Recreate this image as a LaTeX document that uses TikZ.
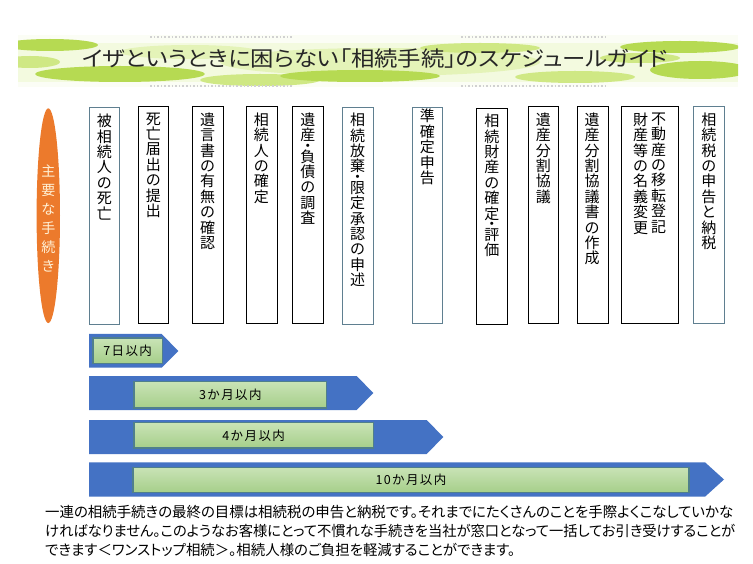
\documentclass[tikz,border=0pt]{standalone}
\usepackage{fontspec}
\usepackage{graphicx}
\usetikzlibrary{shapes.geometric}
\newfontfamily\jp{Noto Sans CJK JP}
\newfontfamily\jpp[RawFeature=+palt]{Noto Sans CJK JP}
\newcommand\lsp{\hspace{1.4pt}}
\newcommand\vdt{\\[-4.7pt]・\\[-4.7pt]}
\definecolor{cblue}{HTML}{4472C4}
\definecolor{gborder}{HTML}{4F7F8C}
\definecolor{glight}{HTML}{C9E3B6}
\definecolor{gdark}{HTML}{A6CF8A}
\definecolor{slate}{HTML}{5F7F90}
\definecolor{ora}{HTML}{EC7A2C}
\definecolor{cream}{HTML}{FFF1D6}
\definecolor{limeA}{HTML}{B6DA52}
\definecolor{limeB}{HTML}{CFE884}
\definecolor{limeC}{HTML}{E4F3B8}
\begin{document}
\begin{tikzpicture}[x=1pt,y=-1pt,
  kbox/.style={draw=black,line width=0.8pt,anchor=north west,inner sep=0pt},
  sbox/.style={draw=slate,line width=1pt,anchor=north west,inner sep=0pt},
  vt/.style={anchor=north,align=center,inner sep=0pt,font=\jp\fontsize{15}{15.4}\selectfont},
  chev/.style={fill=cblue},
  gbar/.style={draw=gborder,line width=1.3pt,top color=glight,bottom color=gdark,anchor=north west,inner sep=0pt,font=\jp\fontsize{12.5}{14}\selectfont},
  blob/.style={fill=#1,draw=none},
  deco/.style={draw=black!18,dotted,line width=1.6pt}
]
\useasboundingbox (0,0) rectangle (753,564);
\fill[white] (0,0) rectangle (753,564);

% ---- title banner ----
\begin{scope}
\clip (18,35) rectangle (738,87);
\fill[limeC!45!white] (18,35) rectangle (738,87);
\fill[white,opacity=0.7] (18,35) rectangle (738,43);
\fill[white,opacity=0.7] (18,82) rectangle (738,87);
\fill[blob=limeA] (50,45) ellipse (48 and 6);
\fill[blob=limeB] (30,62) ellipse (30 and 6);
\fill[blob=limeA] (120,74) ellipse (85 and 8);
\fill[blob=limeC] (190,52) ellipse (70 and 7);
\fill[blob=limeB] (260,80) ellipse (60 and 6);
\fill[blob=limeC] (380,62) ellipse (160 and 14);
\fill[blob=limeA] (360,76) ellipse (80 and 6);
\fill[blob=limeB] (480,48) ellipse (60 and 5);
\fill[blob=limeB] (575,77) ellipse (60 and 6);
\fill[blob=limeA] (680,47) ellipse (60 and 6);
\fill[blob=limeA] (700,70) ellipse (50 and 9);
\fill[blob=limeB] (640,58) ellipse (40 and 5);
\end{scope}
\draw[deco] (150,37) -- (293,37);
\draw[deco] (461,37) -- (606,37);
\draw[deco] (150,86) -- (293,86);
\draw[deco] (461,86) -- (606,86);
\node[anchor=west,inner sep=0pt,text=black!85] (title) at (82,59)
  {\resizebox{586pt}{\height}{\jpp\fontsize{21}{21}\selectfont イザというときに困らない「相続手続」のスケジュールガイド}};

% ---- orange oval ----
\node[ellipse,fill=ora,minimum width=23.4pt,minimum height=214.7pt,inner sep=0pt] (oval) at (48.3,215.7) {};
\node[anchor=center,align=center,inner sep=0pt,text=cream,font=\jp\fontsize{14}{19}\selectfont] (ovtxt) at (48.3,218)
  {主\\要\\な\\手\\続\\き};

% ---- boxes ----
\node[sbox,minimum width=30pt,minimum height=217pt] (b1) at (89.3,107) {};
\node[kbox,minimum width=30pt,minimum height=217pt] (b2) at (138.3,106) {};
\node[kbox,minimum width=30.4pt,minimum height=217pt] (b3) at (192.3,106) {};
\node[kbox,minimum width=30.7pt,minimum height=217pt] (b4) at (246,106) {};
\node[kbox,minimum width=31pt,minimum height=217pt] (b5) at (292.3,106) {};
\node[sbox,minimum width=30.4pt,minimum height=217pt] (b6) at (342.3,107) {};
\node[sbox,minimum width=30pt,minimum height=216pt] (b7) at (412.3,107) {};
\node[kbox,minimum width=31pt,minimum height=215.8pt] (b8) at (476.3,108.5) {};
\node[kbox,minimum width=30pt,minimum height=217pt] (b9) at (528.3,106) {};
\node[kbox,minimum width=31pt,minimum height=217pt] (b10) at (576.7,106) {};
\node[kbox,minimum width=56.7pt,minimum height=217pt] (b11) at (621,106) {};
\node[sbox,minimum width=31pt,minimum height=217pt] (b12) at (693.3,106) {};

\node[vt] (t1) at (104.3,114) {被\\相\\続\\人\\の\\死\\亡};
\node[vt] (t2) at (153.3,112.5) {死\\亡\\届\\出\\の\\提\\出};
\node[vt] (t3) at (207.5,112.5) {遺\\言\\書\\の\\有\\無\\の\\確\\認};
\node[vt] (t4) at (261.3,112.5) {相\\続\\人\\の\\確\\定};
\node[vt] (t5) at (307.8,112.5) {遺\\産\vdt 負\\債\\の\\調\\査};
\node[vt] (t6) at (357.5,113) {相\\続\\放\\棄\vdt 限\\定\\承\\認\\の\\申\\述};
\node[vt] (t7) at (427.3,109) {準\\確\\定\\申\\告};
\node[vt] (t8) at (491.8,114) {相\\続\\財\\産\\の\\確\\定\vdt 評\\価};
\node[vt] (t9) at (543.3,112.5) {遺\\産\\分\\割\\協\\議};
\node[vt] (t10) at (592.2,112.5) {遺\\産\\分\\割\\協\\議\\書\\の\\作\\成};
\node[vt] (t11a) at (658.5,112.5) {不\\動\\産\\の\\移\\転\\登\\記};
\node[vt] (t11b) at (640.5,112.5) {財\\産\\等\\の\\名\\義\\変\\更};
\node[vt] (t12) at (708.8,112.5) {相\\続\\税\\の\\申\\告\\と\\納\\税};

% ---- period chevrons ----
\fill[chev] (89,334) -- (161.7,334) -- (178.3,351) -- (161.7,367.7) -- (89,367.7) -- cycle;
\fill[chev] (89,376) -- (356.7,376) -- (373.3,393) -- (356.7,410) -- (89,410) -- cycle;
\fill[chev] (89,420) -- (426.7,420) -- (443.3,437) -- (426.7,454) -- (89,454) -- cycle;
\fill[chev] (89,462.3) -- (705,462.3) -- (724,479.5) -- (705,496.7) -- (89,496.7) -- cycle;

\node[gbar,minimum width=69.4pt,minimum height=25pt] (g1) at (92.3,337.5) {7\lsp 日\lsp 以\lsp 内};
\node[gbar,minimum width=192.7pt,minimum height=26.6pt] (g2) at (133.3,380.7) {3\lsp か\lsp 月\lsp 以\lsp 内};
\node[gbar,minimum width=239.4pt,minimum height=25.3pt] (g3) at (133.3,422) {4\lsp か\lsp 月\lsp 以\lsp 内};
\node[gbar,minimum width=556pt,minimum height=25pt] (g4) at (132.3,466.7) {1\lsp 0\lsp か\lsp 月\lsp 以\lsp 内};

% ---- explanation ----
\node[anchor=west,inner sep=0pt] (p1) at (45,512)
  {\resizebox{688pt}{\height}{\jpp\fontsize{14.5}{16}\selectfont 一連の相続手続きの最終の目標は相続税の申告と納税です。それまでにたくさんのことを手際よくこなしていかな}};
\node[anchor=west,inner sep=0pt] (p2) at (45,531)
  {\resizebox{690pt}{\height}{\jpp\fontsize{14.5}{16}\selectfont ければなりません。このようなお客様にとって不慣れな手続きを当社が窓口となって一括してお引き受けすることが}};
\node[anchor=west,inner sep=0pt] (p3) at (45,549.5)
  {\resizebox{470pt}{\height}{\jpp\fontsize{14.5}{16}\selectfont できます＜ワンストップ相続＞。相続人様のご負担を軽減することができます。}};
\end{tikzpicture}
\end{document}
